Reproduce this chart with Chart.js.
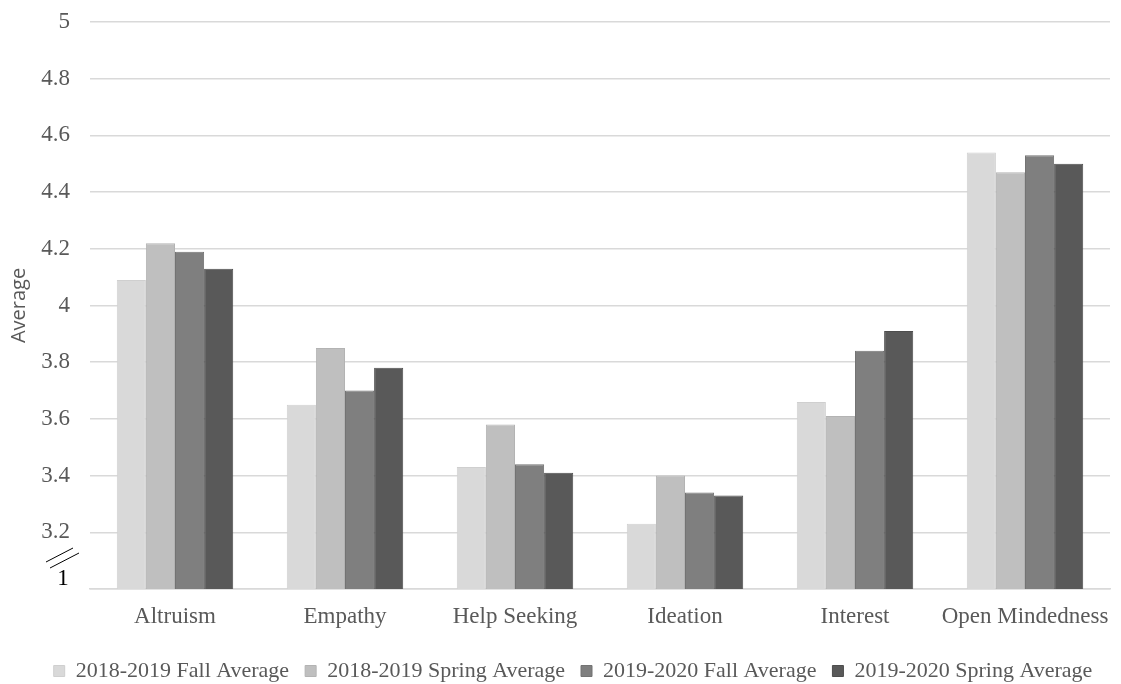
<!DOCTYPE html>
<html>
<head>
<meta charset="utf-8">
<script src="https://cdn.jsdelivr.net/npm/chart.js@4.4.1/dist/chart.umd.min.js"></script>
<style>
  html, body { margin: 0; padding: 0; background: #fff; }
  #wrap { width: 1121px; height: 684px; position: relative; }
</style>
</head>
<body>
<div id="wrap"><canvas id="c" width="1121" height="684"></canvas></div>
<script>
// Categories and the four survey averages
const categories = ['Altruism', 'Empathy', 'Help Seeking', 'Ideation', 'Interest', 'Open Mindedness'];
const seriesNames = ['2018-2019 Fall Average', '2018-2019 Spring Average', '2019-2020 Fall Average', '2019-2020 Spring Average'];
const fall1819   = [4.09, 3.65, 3.43, 3.23, 3.66, 4.54];
const spring1819 = [4.22, 3.85, 3.58, 3.40, 3.61, 4.47];
const fall1920   = [4.19, 3.70, 3.44, 3.34, 3.84, 4.53];
const spring1920 = [4.13, 3.78, 3.41, 3.33, 3.91, 4.50];
const seriesColors = ['#d9d9d9', '#bfbfbf', '#7f7f7f', '#595959'];
const borderColors = ['#cfcfcf', '#b3b3b3', '#737373', '#4d4d4d'];

// Axis: broken scale, bottom shown as "1"
const yMin = 3.0;
const yMax = 5.0;
const yStep = 0.2;
const breakLabel = '1';

const SERIF = '"Liberation Serif", "Times New Roman", serif';
const SANS = '"Open Sans", "Liberation Sans", Arial, sans-serif';
const FONT_SIZE = 23;

const seriesValues = [fall1819, spring1819, fall1920, spring1920];
const datasets = seriesNames.map((name, i) => ({
  label: name,
  data: seriesValues[i],
  backgroundColor: seriesColors[i],
  borderColor: borderColors[i],
  borderWidth: 1,
  categoryPercentage: 0.685,
  barPercentage: 1.0
}));

// Draws the axis-break mark and the "1" label at the bottom of the value axis
const axisBreak = {
  id: 'axisBreak',
  afterDraw(chart) {
    const ctx = chart.ctx;
    const y = chart.scales.y.getPixelForValue(yMin);
    const left = chart.chartArea.left;
    ctx.save();
    ctx.strokeStyle = '#000';
    ctx.lineWidth = 1;
    ctx.beginPath();
    ctx.moveTo(left - 44, y - 27);
    ctx.lineTo(left - 17, y - 41);
    ctx.moveTo(left - 40, y - 21);
    ctx.lineTo(left - 11, y - 36);
    ctx.stroke();
    ctx.fillStyle = '#000';
    ctx.font = FONT_SIZE + 'px ' + SERIF;
    ctx.textAlign = 'center';
    ctx.textBaseline = 'middle';
    ctx.fillText(breakLabel, left - 27, y - 10);
    ctx.restore();
  }
};

const PAD_LEFT = 36;

new Chart(document.getElementById('c'), {
  type: 'bar',
  data: { labels: categories, datasets },
  plugins: [axisBreak],
  options: {
    responsive: false,
    animation: false,
    layout: { padding: { top: 0, right: 11, bottom: -8, left: PAD_LEFT } },
    plugins: {
      tooltip: { enabled: false },
      legend: {
        position: 'bottom',
        labels: {
          font: { family: SERIF, size: 22 },
          color: '#595959',
          boxWidth: 11,
          boxHeight: 11,
          padding: 16
        }
      }
    },
    scales: {
      x: {
        grid: { display: false, drawTicks: false },
        border: { display: true, color: '#d9d9d9', width: 1.5 },
        ticks: {
          font: { family: SERIF, size: FONT_SIZE },
          color: '#595959',
          padding: 14,
          maxRotation: 0,
          minRotation: 0,
          autoSkip: false
        },
        afterFit(scale) {
          scale.height = 55;
          scale.paddingLeft = 0;
          scale.paddingRight = 0;
        }
      },
      y: {
        min: yMin,
        max: yMax,
        grid: { color: '#d9d9d9', lineWidth: 1.5, drawTicks: false },
        border: { display: false },
        ticks: {
          stepSize: yStep,
          font: { family: SERIF, size: FONT_SIZE },
          color: '#595959',
          padding: 20,
          callback: (v) => (Math.abs(v - yMin) < 1e-9 ? '' : String(Math.round(v * 10) / 10))
        },
        title: {
          display: true,
          text: 'Average',
          font: { family: SANS, size: 20 },
          color: '#595959',
          padding: { top: -29, bottom: 0 }
        },
        afterFit(scale) {
          scale.width = 90 - PAD_LEFT;
          scale.paddingTop = 22;
          scale.paddingBottom = 0;
        }
      }
    }
  }
});
</script>
</body>
</html>
